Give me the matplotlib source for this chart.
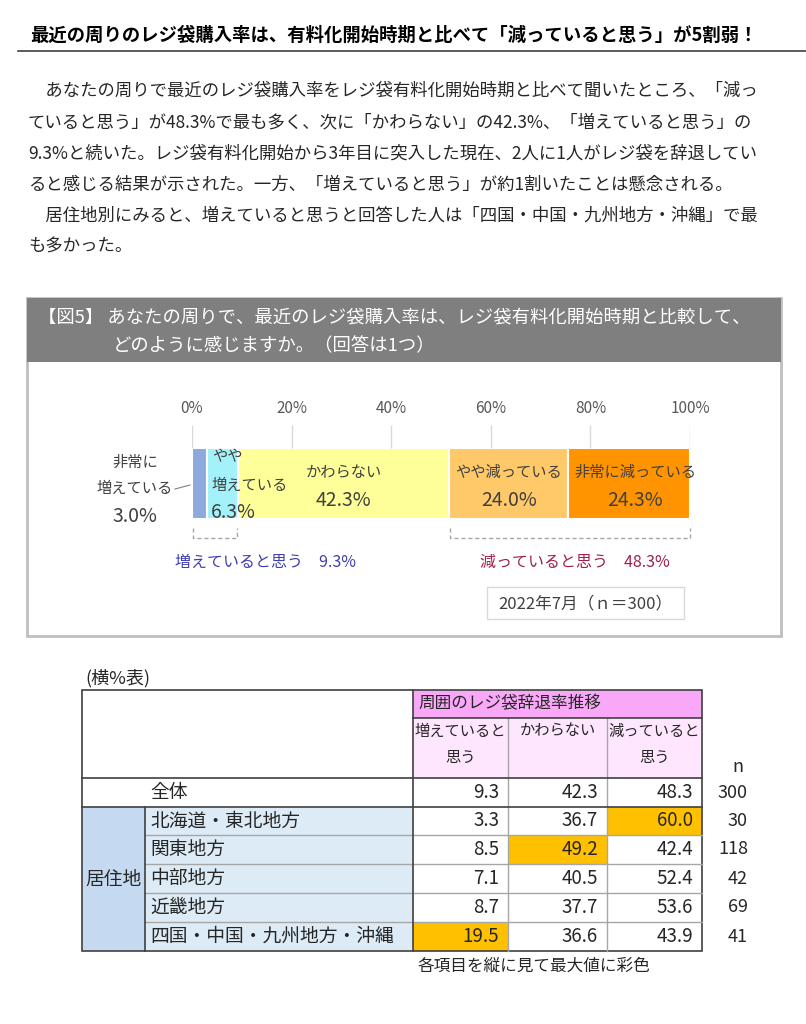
import matplotlib.pyplot as plt
from matplotlib.patches import Rectangle
from matplotlib import transforms

plt.rcParams['font.family'] = ['Noto Sans CJK JP', 'DejaVu Sans']

# ---- data ----
title = '最近の周りのレジ袋購入率は、有料化開始時期と比べて「減っていると思う」が5割弱！'
body_lines = [
    '　あなたの周りで最近のレジ袋購入率をレジ袋有料化開始時期と比べて聞いたところ、「減っ',
    'ていると思う」が48.3%で最も多く、次に「かわらない」の42.3%、「増えていると思う」の',
    '9.3%と続いた。レジ袋有料化開始から3年目に突入した現在、2人に1人がレジ袋を辞退してい',
    'ると感じる結果が示された。一方、「増えていると思う」が約1割いたことは懸念される。',
    '　居住地別にみると、増えていると思うと回答した人は「四国・中国・九州地方・沖縄」で最',
    'も多かった。',
]
fig_title = ['【図5】 あなたの周りで、最近のレジ袋購入率は、レジ袋有料化開始時期と比較して、',
             'どのように感じますか。（回答は1つ）']

answer_labels = ['非常に\n増えている', 'やや\n増えている', 'かわらない', 'やや減っている', '非常に減っている']
answer_shares = [3.0, 6.3, 42.3, 24.0, 24.3]
answer_colors = ['#8EA9DB', '#A3F2F9', '#FFFF99', '#FFC869', '#FF9400']
tick_values = [0, 20, 40, 60, 80, 100]
survey_note = '2022年7月（ｎ＝300）'

table_title = '(横%表)'
table_group = '周囲のレジ袋辞退率推移'
table_cols = ['増えていると\n思う', 'かわらない', '減っていると\n思う']
regions = ['全体', '北海道・東北地方', '関東地方', '中部地方', '近畿地方', '四国・中国・九州地方・沖縄']
inc = [9.3, 3.3, 8.5, 7.1, 8.7, 19.5]
same = [42.3, 36.7, 49.2, 40.5, 37.7, 36.6]
dec = [48.3, 60.0, 42.4, 52.4, 53.6, 43.9]
n_resp = [300, 30, 118, 42, 69, 41]
table_note = '各項目を縦に見て最大値に彩色'

W, H = 806, 1024
fig = plt.figure(figsize=(W / 100, H / 100), dpi=100)
ax = fig.add_axes([0, 0, 1, 1])
ax.set_xlim(0, W)
ax.set_ylim(H, 0)
ax.axis('off')
ax.set_zorder(2)

dark = '#262626'

# title + paragraph
ax.text(30, 35, title, fontsize=13.2, fontweight='bold', va='center', color='black')
ax.plot([18, 806], [51, 51], color='#404040', lw=1.2)
for i, line in enumerate(body_lines):
    ax.text(28, 91 + i * 31.2, line, fontsize=12.5, va='center', color=dark)

# figure box
ax.add_patch(Rectangle((27, 298), 754, 338, fill=False, ec='#BFBFBF', lw=2))
ax.add_patch(Rectangle((27, 298), 754, 64, fc='#7F7F7F', ec='none'))
ax.text(38, 318, fig_title[0], fontsize=13.2, color='white', va='center')
ax.text(113, 346, fig_title[1], fontsize=13.2, color='white', va='center')

# stacked bar
axb = fig.add_axes([192 / W, (H - 519) / H, 498 / W, 94 / H])
axb.set_zorder(1)
axb.set_xlim(0, 100)
axb.set_ylim(0, 94)
lefts = [sum(answer_shares[:i]) for i in range(len(answer_shares))]
axb.barh(35.5, answer_shares, left=lefts, height=71, color=answer_colors,
         edgecolor='white', lw=1.5)
axb.vlines(tick_values, 71, 94, color='#D9D9D9', lw=1)
axb.xaxis.tick_top()
axb.set_xticks(tick_values)
axb.set_xticklabels([f'{v}%' for v in tick_values], fontsize=11, color='#595959')
axb.tick_params(axis='x', length=0, pad=6)
axb.set_yticks([])
for s in axb.spines.values():
    s.set_visible(False)

tr = transforms.blended_transform_factory(axb.transData, ax.transData)
lab_c = '#404040'
pct_fs = 14
centers = [l + w / 2 for l, w in zip(lefts, answer_shares)]

# first segment label (outside, left)
l0 = answer_labels[0].split('\n')
ax.text(135, 462, l0[0], fontsize=11, ha='center', va='center', color=lab_c)
ax.text(135, 488, l0[1], fontsize=11, ha='center', va='center', color=lab_c)
ax.text(135, 516, f'{answer_shares[0]:.1f}%', fontsize=pct_fs, ha='center', va='center', color=lab_c)
ax.plot([175, 190], [489, 485], color='#808080', lw=0.8)

l1 = answer_labels[1].split('\n')
ax.text(lefts[1] + 1.0, 457, l1[0], transform=tr, fontsize=11, va='center', color=lab_c)
ax.text(lefts[1] + 1.0, 485, l1[1], transform=tr, fontsize=11, va='center', color=lab_c)
ax.text(lefts[1] + 0.8, 513, f'{answer_shares[1]:.1f}%', transform=tr, fontsize=pct_fs,
        va='center', color=lab_c)
for k in range(2, 5):
    cx = centers[k] + (1.2 if k == 4 else 0)
    ax.text(cx, 472, answer_labels[k], transform=tr, fontsize=11,
            ha='center', va='center', color=lab_c)
    ax.text(cx, 501, f'{answer_shares[k]:.1f}%', transform=tr, fontsize=pct_fs,
            ha='center', va='center', color=lab_c)

# dashed brackets
inc_total = answer_shares[0] + answer_shares[1]
dec_total = answer_shares[3] + answer_shares[4]
for x0, x1 in [(lefts[0] + 0.2, lefts[2] - 0.2), (lefts[3] + 0.3, 100)]:
    ax.plot([x0, x0, x1, x1], [528, 538, 538, 528], transform=tr, color='#A6A6A6',
            lw=1, ls=(0, (3, 2)))
ax.text(175, 562, f'増えていると思う　{inc_total:.1f}%', fontsize=11.5, va='center', color='#4040B0')
ax.text(480, 562, f'減っていると思う　{dec_total:.1f}%', fontsize=11.5, va='center', color='#A0204C')

ax.add_patch(Rectangle((487, 587), 197, 32, fc='white', ec='#D9D9D9', lw=1))
ax.text(585, 604, survey_note, fontsize=12, ha='center', va='center', color='#404040')

# ---- table ----
ax.text(85, 678, table_title, fontsize=13, va='center', color=dark)
col_x = [82, 145, 413, 508, 607, 702]
row_y = [778, 807, 835, 864, 893, 922, 951]

ax.add_patch(Rectangle((82, 690), 331, 88, fc='white', ec='none'))
ax.add_patch(Rectangle((413, 690), 289, 28, fc='#F9A8F7', ec='none'))
ax.add_patch(Rectangle((413, 718), 289, 60, fc='#FFE6FF', ec='none'))
ax.add_patch(Rectangle((82, 807), 63, 144, fc='#C5D9F1', ec='none'))
ax.add_patch(Rectangle((145, 807), 268, 144, fc='#DDEBF7', ec='none'))

cols = [inc, same, dec]
for j, vals in enumerate(cols):
    best = max(vals[1:])
    for i, v in enumerate(vals):
        fc = '#FFC000' if (i > 0 and v == best) else 'white'
        ax.add_patch(Rectangle((col_x[j + 2], row_y[i]), col_x[j + 3] - col_x[j + 2],
                               row_y[i + 1] - row_y[i], fc=fc, ec='none'))
        ax.text(col_x[j + 3] - 9, (row_y[i] + row_y[i + 1]) / 2, f'{v:.1f}',
                fontsize=13.5, ha='right', va='center', color=dark)

for i, r in enumerate(regions):
    ax.text(150, (row_y[i] + row_y[i + 1]) / 2, r, fontsize=13.5, va='center', color=dark)
    ax.text(748, (row_y[i] + row_y[i + 1]) / 2, f'{n_resp[i]}', fontsize=13,
            ha='right', va='center', color=dark)
ax.text(738, 767, 'n', fontsize=13, ha='center', va='center', color=dark)
ax.text(114, 879, '居住地', fontsize=13.5, ha='center', va='center', color=dark)

ax.text(418, 704, table_group, fontsize=12, va='center', color=dark)
for j, c in enumerate(table_cols):
    cx = (col_x[j + 2] + col_x[j + 3]) / 2
    for k, part in enumerate(c.split('\n')):
        ax.text(cx, 731 + k * 26, part, fontsize=11, ha='center', va='center', color=dark)

gray = '#A6A6A6'
for x in [508, 607]:
    ax.plot([x, x], [718, 951], color=gray, lw=1)
for y in row_y[2:-1]:
    ax.plot([145, 702], [y, y], color=gray, lw=1)
k = '#404040'
ax.add_patch(Rectangle((82, 690), 620, 261, fill=False, ec=k, lw=1.2))
ax.plot([413, 413], [690, 951], color=k, lw=1.2)
ax.plot([413, 702], [718, 718], color=k, lw=1.2)
ax.plot([82, 702], [778, 778], color=k, lw=1.2)
ax.plot([82, 702], [807, 807], color=k, lw=1.2)
ax.plot([145, 145], [807, 951], color=k, lw=1.2)

ax.text(418, 966, table_note, fontsize=12, va='center', color=dark)

fig.savefig('out.png', dpi=100)
